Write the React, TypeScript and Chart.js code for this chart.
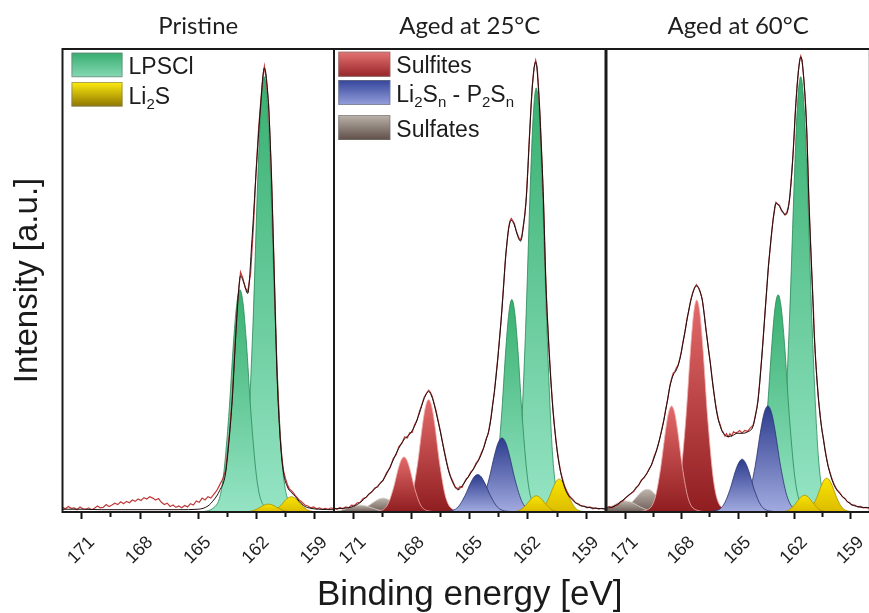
import { useEffect, useRef } from 'react';
import { Chart, registerables } from 'chart.js';

Chart.register(...registerables);

type Pt = [number, number];

// ---------------- text / categories ----------------
const PANEL_TITLES = ['Pristine', 'Aged at 25°C', 'Aged at 60°C'];
const Y_TITLE = 'Intensity [a.u.]';
const X_TITLE = 'Binding energy [eV]';
const X_MIN = 158;
const X_MAX = 172;
const X_STEP = 1.5;
const MAJOR_TICKS = [171, 168, 165, 162, 159];

// ---------------- measured spectra (raw, red) ----------------
const RAW_P1: Pt[] = [
  [172.0, 1.0], [171.85, 0.7], [171.7, 1.2], [171.55, 0.8], [171.4, 0.9], [171.25, 0.5], [171.1, 1.1], [170.95, 0.7],
  [170.8, 0.6], [170.65, 0.9], [170.5, 0.5], [170.35, 0.8], [170.2, 1.3], [170.05, 0.9], [169.9, 1.0], [169.75, 1.6],
  [169.6, 1.2], [169.45, 1.5], [169.3, 1.9], [169.15, 1.6], [169.0, 2.2], [168.85, 1.8], [168.7, 2.3], [168.55, 2.0],
  [168.4, 2.6], [168.25, 2.3], [168.1, 2.8], [167.95, 2.5], [167.8, 3.1], [167.65, 2.8], [167.5, 3.3], [167.35, 3.0],
  [167.2, 2.6], [167.05, 2.9], [166.9, 2.1], [166.75, 1.6], [166.6, 1.9], [166.45, 1.2], [166.3, 1.5], [166.15, 1.0],
  [166.0, 1.3], [165.85, 0.9], [165.7, 1.4], [165.55, 1.1], [165.4, 1.8], [165.25, 1.5], [165.1, 2.4], [164.95, 2.1],
  [164.8, 3.0], [164.65, 2.6], [164.5, 3.3], [164.35, 3.0], [164.2, 3.8], [164.05, 4.6], [163.9, 5.8], [163.75, 7.0],
  [163.59, 9.0], [163.4, 16.5], [163.25, 24.5], [163.08, 37.5], [162.95, 46.5], [162.82, 51.8], [162.7, 50.5],
  [162.58, 48.5], [162.45, 47.6], [162.3, 51.5], [162.15, 62], [162.02, 73.5], [161.9, 82], [161.79, 88],
  [161.68, 93.5], [161.59, 96.3], [161.5, 93.5], [161.37, 88], [161.23, 73.5], [161.13, 59], [161.06, 48.5],
  [160.94, 30.5], [160.85, 22], [160.77, 16], [160.68, 11.5], [160.6, 8.8], [160.5, 7.2], [160.4, 5.9], [160.3, 5.0],
  [160.2, 4.6], [160.1, 4.2], [160.0, 3.6], [159.9, 3.1], [159.8, 2.6], [159.65, 2.1], [159.5, 1.5], [159.35, 1.3],
  [159.2, 0.9], [159.05, 1.1], [158.9, 0.7], [158.75, 0.9], [158.6, 0.6], [158.45, 0.8], [158.3, 0.6], [158.15, 0.9],
  [158.0, 0.7],
];

const RAW_P2: Pt[] = [
  [172.0, 0.9], [171.85, 0.6], [171.7, 1.0], [171.55, 0.7], [171.4, 1.1], [171.25, 0.9], [171.1, 1.5], [170.95, 1.4],
  [170.8, 2.0], [170.65, 2.1], [170.5, 2.9], [170.33, 3.2], [170.2, 3.9], [170.05, 4.3], [169.9, 5.2], [169.75, 5.4],
  [169.6, 6.4], [169.47, 6.8], [169.3, 8.4], [169.1, 9.6], [168.95, 11.5], [168.79, 12.4], [168.65, 14.2], [168.5, 14.8],
  [168.36, 16.2], [168.22, 16.0], [168.1, 17.1], [167.97, 17.2], [167.85, 18.8], [167.72, 19.8], [167.59, 21.8],
  [167.47, 23.2], [167.35, 24.8], [167.22, 25.7], [167.12, 26.3], [167.02, 25.8], [166.92, 24.8], [166.82, 23.2],
  [166.73, 21.8], [166.62, 19.5], [166.5, 17.2], [166.4, 15.0], [166.3, 13.0], [166.2, 11.0], [166.1, 9.2], [166.0, 7.8],
  [165.87, 6.6], [165.75, 5.4], [165.6, 5.0], [165.5, 5.5], [165.4, 5.3], [165.3, 6.2], [165.19, 7.1], [165.07, 7.6],
  [164.95, 8.6], [164.82, 9.2], [164.68, 10.5], [164.55, 11.2], [164.4, 12.8], [164.28, 13.9], [164.16, 15.8],
  [164.05, 16.9], [163.97, 18.8], [163.9, 20.5], [163.82, 23.3], [163.73, 25.8], [163.65, 29.3], [163.56, 33],
  [163.47, 37.3], [163.38, 41.5], [163.3, 46.3], [163.22, 51], [163.15, 55.2], [163.07, 58.5], [163.0, 61.3],
  [162.93, 62.8], [162.86, 63.4], [162.78, 62.9], [162.7, 62.3], [162.61, 60.8], [162.52, 59.8], [162.45, 59.0],
  [162.38, 58.8], [162.31, 59.6], [162.24, 61.8], [162.16, 64.3], [162.08, 68.3], [162.0, 74.5], [161.92, 81.3],
  [161.85, 87], [161.77, 92.3], [161.69, 95.8], [161.6, 97.6], [161.52, 96], [161.45, 91.3], [161.38, 86],
  [161.32, 80.3], [161.26, 74], [161.2, 67.7], [161.14, 59], [161.08, 50.4], [161.02, 44], [160.95, 38.3],
  [160.88, 33], [160.82, 28.8], [160.75, 24.5], [160.69, 21.3], [160.62, 18.3], [160.56, 15.8], [160.48, 13.0],
  [160.4, 10.8], [160.31, 8.7], [160.22, 7.2], [160.11, 5.6], [160.0, 4.5], [159.85, 3.4], [159.7, 2.8], [159.55, 2.0],
  [159.4, 1.8], [159.25, 1.3], [159.1, 1.3], [158.95, 0.9], [158.8, 1.1], [158.65, 0.7], [158.5, 0.9], [158.35, 0.6],
  [158.2, 0.8], [158.0, 0.6],
];

const RAW_P3: Pt[] = [
  [172.0, 0.9], [171.85, 1.2], [171.7, 0.9], [171.55, 1.4], [171.4, 1.5], [171.25, 2.2], [171.12, 2.4], [171.0, 3.0],
  [170.85, 3.5], [170.7, 4.0], [170.55, 4.4], [170.43, 5.3], [170.3, 5.7], [170.15, 6.9], [170.0, 7.4], [169.87, 8.2],
  [169.74, 9.3], [169.6, 10.2], [169.47, 12.0], [169.33, 13.4], [169.2, 15.3], [169.06, 17.9], [168.95, 19.9],
  [168.85, 22.3], [168.74, 24.4], [168.63, 27.3], [168.54, 28.8], [168.45, 30.0], [168.37, 30.3], [168.28, 31.2],
  [168.2, 31.6], [168.1, 33.2], [168.02, 34.6], [167.94, 36.6], [167.83, 38.8], [167.72, 41.7], [167.62, 43.6],
  [167.51, 46.0], [167.4, 47.6], [167.3, 48.6], [167.22, 49.1], [167.13, 48.6], [167.02, 47.5], [166.91, 46.0],
  [166.8, 42.6], [166.7, 39.2], [166.59, 35.5], [166.48, 32.3], [166.39, 29.0], [166.3, 26.2], [166.21, 23.5],
  [166.13, 21.6], [166.04, 19.8], [165.95, 18.8], [165.87, 17.6], [165.79, 17.2], [165.7, 16.4], [165.62, 16.9],
  [165.53, 16.2], [165.44, 16.9], [165.35, 16.4], [165.25, 17.3], [165.15, 17.1], [165.05, 17.2], [164.92, 17.6],
  [164.79, 17.1], [164.65, 17.6], [164.5, 17.4], [164.36, 18.1], [164.21, 18.7], [164.14, 19.8], [164.07, 21.2],
  [164.0, 22.6], [163.94, 24.4], [163.85, 28.3], [163.75, 33.2], [163.65, 38.6], [163.56, 43.8], [163.47, 48.5],
  [163.39, 53.2], [163.3, 56.8], [163.22, 60.2], [163.14, 63.3], [163.06, 65.3], [162.99, 66.9], [162.9, 66.5],
  [162.8, 66.2], [162.7, 65.1], [162.6, 64.7], [162.53, 64.2], [162.47, 64.4], [162.4, 64.9], [162.33, 66.0],
  [162.27, 67.6], [162.19, 71.3], [162.1, 76.2], [162.02, 81.4], [161.95, 87.2], [161.87, 91.8], [161.8, 95.2],
  [161.73, 97.4], [161.67, 98.5], [161.6, 97.6], [161.5, 93.2], [161.42, 88.3], [161.35, 82.2], [161.3, 75.8],
  [161.24, 67.6], [161.16, 59.2], [161.07, 50.3], [161.0, 44.2], [160.95, 38.2], [160.88, 33.0], [160.81, 28.7],
  [160.72, 24.0], [160.62, 20.2], [160.54, 17.6], [160.46, 15.7], [160.38, 13.4], [160.3, 11.7], [160.21, 9.8],
  [160.12, 8.6], [160.0, 7.0], [159.9, 6.0], [159.75, 4.8], [159.6, 4.2], [159.45, 3.3], [159.3, 2.9], [159.2, 2.2],
  [159.09, 2.1], [158.95, 1.5], [158.8, 1.5], [158.65, 1.1], [158.5, 1.2], [158.35, 0.9], [158.2, 1.0], [158.0, 0.8],
];

// ---------------- fitted envelopes (black) ----------------
const ENV_P1: Pt[] = [
  [172, 0.6], [171, 0.6], [170, 0.5], [168, 0.5], [166, 0.5], [165, 0.6], [164.5, 1.3], [164.2, 2.6], [163.9, 4.6],
  [163.59, 8.4], [163.4, 16], [163.25, 24], [163.08, 37], [162.95, 46], [162.82, 51], [162.65, 49.5], [162.45, 47.2],
  [162.23, 58.8], [162.02, 73.2], [161.79, 87.5], [161.59, 95.9], [161.37, 87.5], [161.23, 73.2], [161.13, 58.8],
  [161.06, 48], [160.94, 30], [160.77, 15.5], [160.6, 8.4], [160.4, 5.4], [160.2, 4.2], [160.0, 3.4], [159.8, 2.3],
  [159.5, 1.2], [159.2, 0.8], [158.8, 0.6], [158, 0.5],
];

const ENV_P2: Pt[] = [
  [172, 0.7], [171.5, 0.8], [171.0, 1.2], [170.6, 2.2], [170.33, 3.3], [170.0, 4.6], [169.75, 5.6], [169.47, 6.9],
  [169.1, 9.8], [168.79, 12.7], [168.55, 14.6], [168.36, 15.8], [168.1, 16.8], [167.85, 18.5], [167.59, 21.4],
  [167.35, 24.5], [167.12, 26.0], [166.92, 24.5], [166.73, 21.4], [166.5, 17], [166.3, 12.7], [166.1, 9],
  [165.87, 6.3], [165.6, 4.8], [165.4, 5.6], [165.19, 6.9], [164.95, 8.4], [164.68, 10.2], [164.4, 12.5],
  [164.16, 15.5], [163.97, 18.5], [163.82, 23], [163.65, 29], [163.47, 37], [163.3, 46], [163.15, 55], [163.0, 61],
  [162.86, 63], [162.7, 62], [162.52, 59.5], [162.38, 58.5], [162.24, 61.5], [162.08, 68], [161.92, 81], [161.77, 92],
  [161.6, 97.2], [161.45, 91], [161.32, 80], [161.2, 67.4], [161.08, 50.1], [160.95, 38], [160.82, 28.5],
  [160.69, 21], [160.56, 15.5], [160.4, 10.5], [160.22, 6.9], [160.0, 4.2], [159.7, 2.6], [159.4, 1.6], [159.02, 1.1],
  [158.5, 0.8], [158, 0.7],
];

const ENV_P3: Pt[] = [
  [172, 0.8], [171.6, 1.2], [171.12, 2.6], [170.8, 3.7], [170.43, 5.1], [170.1, 7.0], [169.74, 9.1], [169.4, 12.5],
  [169.06, 17.7], [168.85, 22], [168.63, 27.1], [168.45, 29.6], [168.28, 30.7], [168.1, 33], [167.94, 36.4],
  [167.72, 41.5], [167.51, 45.8], [167.22, 48.8], [166.91, 45.8], [166.7, 39], [166.48, 32.1], [166.3, 26],
  [166.13, 21.3], [165.95, 18.5], [165.79, 17.0], [165.53, 16.3], [165.3, 16.5], [165.05, 17.0], [164.79, 17.0],
  [164.5, 17.3], [164.21, 18.5], [164.07, 21], [163.94, 24.2], [163.75, 33], [163.56, 43.6], [163.39, 53],
  [163.14, 63.1], [162.99, 66.7], [162.8, 66], [162.6, 64.6], [162.47, 64.2], [162.27, 67.4], [162.1, 76],
  [161.95, 87], [161.8, 95], [161.67, 98.3], [161.5, 93], [161.35, 82], [161.24, 67.4], [161.07, 50.1], [160.95, 38],
  [160.81, 28.5], [160.62, 20], [160.46, 15.5], [160.3, 11.5], [160.12, 8.4], [159.9, 5.8], [159.6, 4.0], [159.3, 2.7],
  [159.09, 1.9], [158.7, 1.2], [158, 0.9],
];

// ---------------- fitted components ----------------
// Pristine
const P1_LPSCL_32: Pt[] = [[159.48, 0], [160.28, 1.9], [160.7, 12.2], [161.02, 40.4], [161.28, 73.3], [161.44, 88.4], [161.6, 94], [161.76, 88.4], [161.92, 73.3], [162.18, 40.4], [162.5, 12.2], [162.93, 1.9], [163.72, 0]];
const P1_LPSCL_12: Pt[] = [[160.73, 0], [161.53, 1.0], [161.95, 6.2], [162.27, 20.6], [162.53, 37.4], [162.69, 45.1], [162.85, 48], [163.01, 45.1], [163.17, 37.4], [163.43, 20.6], [163.75, 6.2], [164.18, 1.0], [164.97, 0]];
const P1_LI2S_32: Pt[] = [[158.2, 0], [158.95, 0.07], [159.35, 0.43], [159.65, 1.4], [159.9, 2.6], [160.05, 3.1], [160.2, 3.3], [160.35, 3.1], [160.5, 2.6], [160.75, 1.4], [161.05, 0.43], [161.45, 0.07], [162.2, 0]];
const P1_LI2S_12: Pt[] = [[159.38, 0], [160.13, 0.03], [160.53, 0.22], [160.83, 0.73], [161.08, 1.33], [161.23, 1.6], [161.38, 1.7], [161.53, 1.6], [161.68, 1.33], [161.93, 0.73], [162.23, 0.22], [162.63, 0.03], [163.38, 0]];

// Aged at 25 °C
const P2_LPSCL_32: Pt[] = [[159.57, 0], [160.32, 1.8], [160.72, 11.9], [161.02, 39.4], [161.27, 71.4], [161.42, 86.1], [161.57, 91.6], [161.72, 86.1], [161.87, 71.4], [162.12, 39.4], [162.42, 11.9], [162.82, 1.8], [163.57, 0]];
const P2_LPSCL_12: Pt[] = [[160.83, 0], [161.58, 0.9], [161.98, 6.0], [162.28, 19.7], [162.53, 35.8], [162.68, 43.1], [162.83, 45.9], [162.98, 43.1], [163.13, 35.8], [163.38, 19.7], [163.68, 6.0], [164.08, 0.9], [164.83, 0]];
const P2_LI2S_32: Pt[] = [[158.47, 0], [159.19, 0.14], [159.57, 0.92], [159.86, 3.05], [160.1, 5.5], [160.25, 6.7], [160.39, 7.1], [160.53, 6.7], [160.68, 5.5], [160.92, 3.05], [161.21, 0.92], [161.59, 0.14], [162.31, 0]];
const P2_LI2S_12: Pt[] = [[159.65, 0], [160.37, 0.07], [160.75, 0.46], [161.04, 1.5], [161.28, 2.7], [161.43, 3.3], [161.57, 3.5], [161.71, 3.3], [161.86, 2.7], [162.1, 1.5], [162.39, 0.46], [162.77, 0.07], [163.49, 0]];
const P2_POLY_32: Pt[] = [[160.86, 0], [161.79, 0.32], [162.29, 2.1], [162.66, 6.9], [162.97, 12.5], [163.15, 15.0], [163.34, 16.0], [163.53, 15.0], [163.71, 12.5], [164.02, 6.9], [164.39, 2.1], [164.89, 0.32], [165.82, 0]];
const P2_POLY_12: Pt[] = [[162.19, 0], [163.09, 0.16], [163.57, 1.05], [163.93, 3.5], [164.23, 6.3], [164.41, 7.6], [164.59, 8.1], [164.77, 7.6], [164.95, 6.3], [165.25, 3.5], [165.61, 1.05], [166.09, 0.16], [166.99, 0]];
const P2_SULFITE_32: Pt[] = [[165.04, 0], [165.82, 0.49], [166.24, 3.2], [166.55, 10.4], [166.81, 19.0], [166.96, 22.8], [167.12, 24.3], [167.28, 22.8], [167.43, 19.0], [167.69, 10.4], [168.0, 3.2], [168.42, 0.49], [169.2, 0]];
const P2_SULFITE_12: Pt[] = [[166.39, 0], [167.14, 0.24], [167.54, 1.55], [167.84, 5.1], [168.09, 9.3], [168.24, 11.2], [168.39, 11.9], [168.54, 11.2], [168.69, 9.3], [168.94, 5.1], [169.24, 1.55], [169.64, 0.24], [170.39, 0]];
const P2_SULFATE_32: Pt[] = [[166.67, 0], [167.72, 0.06], [168.28, 0.39], [168.7, 1.3], [169.05, 2.3], [169.26, 2.8], [169.47, 3.0], [169.68, 2.8], [169.89, 2.3], [170.24, 1.3], [170.66, 0.39], [171.22, 0.06], [172.27, 0]];
const P2_SULFATE_12: Pt[] = [[167.85, 0], [168.9, 0.03], [169.46, 0.2], [169.88, 0.65], [170.23, 1.17], [170.44, 1.4], [170.65, 1.5], [170.86, 1.4], [171.07, 1.17], [171.42, 0.65], [171.84, 0.2], [172.4, 0.03], [173.45, 0]];

// Aged at 60 °C
const P3_LPSCL_32: Pt[] = [[159.47, 0], [160.3, 1.9], [160.74, 12.2], [161.07, 40.4], [161.34, 73.3], [161.51, 88.4], [161.67, 94], [161.84, 88.4], [162.0, 73.3], [162.28, 40.4], [162.61, 12.2], [163.05, 1.9], [163.87, 0]];
const P3_LPSCL_12: Pt[] = [[160.67, 0], [161.5, 0.94], [161.94, 6.1], [162.27, 20.2], [162.54, 36.6], [162.71, 44.1], [162.87, 46.9], [163.04, 44.1], [163.2, 36.6], [163.48, 20.2], [163.81, 6.1], [164.25, 0.94], [165.07, 0]];
const P3_LI2S_32: Pt[] = [[158.37, 0], [159.09, 0.15], [159.47, 0.95], [159.76, 3.1], [160.0, 5.7], [160.15, 6.9], [160.29, 7.3], [160.43, 6.9], [160.58, 5.7], [160.82, 3.1], [161.11, 0.95], [161.49, 0.15], [162.21, 0]];
const P3_LI2S_12: Pt[] = [[159.55, 0], [160.27, 0.07], [160.65, 0.47], [160.94, 1.55], [161.18, 2.8], [161.33, 3.4], [161.47, 3.6], [161.61, 3.4], [161.76, 2.8], [162.0, 1.55], [162.29, 0.47], [162.67, 0.07], [163.39, 0]];
const P3_POLY_32: Pt[] = [[160.94, 0], [161.87, 0.46], [162.37, 3.0], [162.74, 9.8], [163.05, 17.9], [163.23, 21.5], [163.42, 22.9], [163.61, 21.5], [163.79, 17.9], [164.1, 9.8], [164.47, 3.0], [164.97, 0.46], [165.9, 0]];
const P3_POLY_12: Pt[] = [[162.47, 0], [163.34, 0.23], [163.8, 1.5], [164.15, 4.9], [164.44, 8.9], [164.62, 10.7], [164.79, 11.4], [164.96, 10.7], [165.14, 8.9], [165.43, 4.9], [165.78, 1.5], [166.24, 0.23], [167.11, 0]];
const P3_SULFITE_32: Pt[] = [[165.04, 0], [165.85, 0.92], [166.28, 6.0], [166.61, 19.7], [166.88, 35.7], [167.04, 43.1], [167.2, 45.8], [167.36, 43.1], [167.52, 35.7], [167.79, 19.7], [168.12, 6.0], [168.55, 0.92], [169.36, 0]];
const P3_SULFITE_12: Pt[] = [[166.46, 0], [167.24, 0.46], [167.66, 3.0], [167.97, 9.8], [168.23, 17.9], [168.38, 21.5], [168.54, 22.9], [168.7, 21.5], [168.85, 17.9], [169.11, 9.8], [169.42, 3.0], [169.84, 0.46], [170.62, 0]];
const P3_SULFATE_32: Pt[] = [[166.83, 0], [167.96, 0.1], [168.56, 0.64], [169.01, 2.1], [169.42, 3.8], [169.61, 4.6], [169.83, 4.9], [170.06, 4.6], [170.28, 3.8], [170.66, 2.1], [171.11, 0.64], [171.71, 0.1], [172.83, 0]];
const P3_SULFATE_12: Pt[] = [[168.0, 0], [169.13, 0.05], [169.73, 0.31], [170.18, 1.03], [170.55, 1.87], [170.78, 2.26], [171.0, 2.4], [171.23, 2.26], [171.45, 1.87], [171.83, 1.03], [172.28, 0.31], [172.88, 0.05], [174.0, 0]];

// ---------------- styles ----------------
type SpeciesKey = 'lpscl' | 'li2s' | 'sulfite' | 'poly' | 'sulfate';
const SPECIES_STYLE: Record<SpeciesKey, { top: string; bottom: string; line: string; lgTop: string; lgBottom: string }> = {
  lpscl: { top: '#38b070', bottom: '#95e4c4', line: '#2a8658', lgTop: '#36ad6f', lgBottom: '#86d9b4' },
  li2s: { top: '#f8e400', bottom: '#dcbc00', line: '#a89000', lgTop: '#ffec10', lgBottom: '#8e7600' },
  sulfite: { top: '#e46a6a', bottom: '#8f1d20', line: '#f2b0b0', lgTop: '#e57474', lgBottom: '#972427' },
  poly: { top: '#2d3c8e', bottom: '#a2abe0', line: '#27336f', lgTop: '#34449a', lgBottom: '#95a0dc' },
  sulfate: { top: '#bdb5ad', bottom: '#6c5c54', line: '#d8d1ca', lgTop: '#bcb4ac', lgBottom: '#5e4e47' },
};

type PeakDef = { data: Pt[]; sp: SpeciesKey };
// listed front-most first
const PANEL_PEAKS: PeakDef[][] = [
  [
    { data: P1_LI2S_12, sp: 'li2s' }, { data: P1_LI2S_32, sp: 'li2s' },
    { data: P1_LPSCL_12, sp: 'lpscl' }, { data: P1_LPSCL_32, sp: 'lpscl' },
  ],
  [
    { data: P2_LI2S_12, sp: 'li2s' }, { data: P2_LI2S_32, sp: 'li2s' },
    { data: P2_POLY_12, sp: 'poly' }, { data: P2_POLY_32, sp: 'poly' },
    { data: P2_SULFITE_12, sp: 'sulfite' }, { data: P2_SULFITE_32, sp: 'sulfite' },
    { data: P2_LPSCL_12, sp: 'lpscl' }, { data: P2_LPSCL_32, sp: 'lpscl' },
    { data: P2_SULFATE_12, sp: 'sulfate' }, { data: P2_SULFATE_32, sp: 'sulfate' },
  ],
  [
    { data: P3_LI2S_12, sp: 'li2s' }, { data: P3_LI2S_32, sp: 'li2s' },
    { data: P3_POLY_12, sp: 'poly' }, { data: P3_POLY_32, sp: 'poly' },
    { data: P3_SULFITE_12, sp: 'sulfite' }, { data: P3_SULFITE_32, sp: 'sulfite' },
    { data: P3_LPSCL_12, sp: 'lpscl' }, { data: P3_LPSCL_32, sp: 'lpscl' },
    { data: P3_SULFATE_12, sp: 'sulfate' }, { data: P3_SULFATE_32, sp: 'sulfate' },
  ],
];
const PANEL_RAW: Pt[][] = [RAW_P1, RAW_P2, RAW_P3];
const PANEL_ENV: Pt[][] = [ENV_P1, ENV_P2, ENV_P3];

// legend entries: text parts [text, isSubscript]
type LegendEntry = { sp: SpeciesKey; parts: [string, boolean][] };
const PANEL_LEGENDS: LegendEntry[][] = [
  [
    { sp: 'lpscl', parts: [['LPSCl', false]] },
    { sp: 'li2s', parts: [['Li', false], ['2', true], ['S', false]] },
  ],
  [
    { sp: 'sulfite', parts: [['Sulfites', false]] },
    { sp: 'poly', parts: [['Li', false], ['2', true], ['S', false], ['n', true], [' - P', false], ['2', true], ['S', false], ['n', true]] },
    { sp: 'sulfate', parts: [['Sulfates', false]] },
  ],
  [],
];

// ---------------- layout ----------------
const CANVAS_W = 880;
const CANVAS_H = 613;
const PLOT_TOP = 49;
const PLOT_BOTTOM = 512;
const PANEL_X: [number, number][] = [[62.5, 334], [334, 605.5], [606.5, 878]];
const LEGEND_LAYOUT = [
  { dx: 9, rows: [3.7, 33], boxW: 51, boxH: 24.5 },
  { dx: 4.3, rows: [2.7, 31, 66], boxW: 52, boxH: 25 },
  { dx: 0, rows: [], boxW: 0, boxH: 0 },
];
const TITLE_SIZE = 24;
const TITLE_PAD_BOTTOM = 8;
const X_TITLE_BASELINE = 605;
const SANS = '"Liberation Sans", Arial, sans-serif';

Chart.defaults.font.family = SANS;

const toXY = (pts: Pt[]) => [...pts].sort((a, b) => a[0] - b[0]).map(([x, y]) => ({ x, y }));

const framePlugin = {
  id: 'panelFrame',
  afterDraw(chart: any) {
    const { ctx, chartArea: a } = chart;
    ctx.save();
    ctx.strokeStyle = '#1a1a1a';
    ctx.lineWidth = 2;
    ctx.strokeRect(a.left, a.top, a.right - a.left, a.bottom - a.top);
    ctx.restore();
  },
};

// shared x-axis title, centred under the middle panel (wider than one panel)
const xTitlePlugin = {
  id: 'sharedXTitle',
  afterDraw(chart: any) {
    const { ctx, chartArea: a } = chart;
    ctx.save();
    ctx.fillStyle = '#1a1a1a';
    ctx.font = `35px ${SANS}`;
    ctx.textAlign = 'center';
    ctx.textBaseline = 'alphabetic';
    ctx.fillText(X_TITLE, (a.left + a.right) / 2, X_TITLE_BASELINE);
    ctx.restore();
  },
};

function makeLegendPlugin(idx: number) {
  const entries = PANEL_LEGENDS[idx];
  const lay = LEGEND_LAYOUT[idx];
  return {
    id: 'insideLegend',
    afterDraw(chart: any) {
      if (!entries.length) return;
      const { ctx, chartArea } = chart;
      ctx.save();
      entries.forEach((e, i) => {
        const st = SPECIES_STYLE[e.sp];
        const x = chartArea.left + lay.dx;
        const y = chartArea.top + lay.rows[i];
        const g = ctx.createLinearGradient(0, y, 0, y + lay.boxH);
        g.addColorStop(0, st.lgTop);
        g.addColorStop(1, st.lgBottom);
        ctx.fillStyle = g;
        ctx.fillRect(x, y, lay.boxW, lay.boxH);
        ctx.strokeStyle = 'rgba(120,120,120,0.6)';
        ctx.lineWidth = 1;
        ctx.strokeRect(x + 0.5, y + 0.5, lay.boxW - 1, lay.boxH - 1);
        let tx = x + lay.boxW + 6;
        const base = y + 21.5;
        ctx.fillStyle = '#1c1c1c';
        ctx.textAlign = 'left';
        ctx.textBaseline = 'alphabetic';
        e.parts.forEach(([t, sub]) => {
          ctx.font = sub ? `15px ${SANS}` : `23px ${SANS}`;
          ctx.fillText(t, tx, sub ? base + 5 : base);
          tx += ctx.measureText(t).width;
        });
      });
      ctx.restore();
    },
  };
}

const isMajor = (v: number) => MAJOR_TICKS.some((m) => Math.abs(m - v) < 0.01);

function makeChart(canvas: HTMLCanvasElement, idx: number) {
  const [left, right] = PANEL_X[idx];
  const datasets: any[] = [];
  datasets.push({
    label: 'Envelope',
    data: toXY(PANEL_ENV[idx]),
    borderColor: '#1a1010',
    borderWidth: 1,
    pointRadius: 0,
    fill: false,
    cubicInterpolationMode: 'monotone',
  });
  datasets.push({
    label: 'Measured',
    data: toXY(PANEL_RAW[idx]),
    borderColor: 'rgba(185,35,35,0.9)',
    borderWidth: 1.2,
    pointRadius: 0,
    fill: false,
    tension: 0,
  });
  PANEL_PEAKS[idx].forEach((p, k) => {
    const st = SPECIES_STYLE[p.sp];
    const peakMax = Math.max(...p.data.map((d) => d[1]));
    datasets.push({
      label: `${p.sp}-${k}`,
      data: toXY(p.data),
      borderColor: st.line,
      borderWidth: 0.8,
      pointRadius: 0,
      fill: 'origin',
      cubicInterpolationMode: 'monotone',
      backgroundColor: (c: any) => {
        const chart = c.chart;
        const ys = chart.scales?.y;
        if (!chart.chartArea || !ys) return st.top;
        const g = chart.ctx.createLinearGradient(0, ys.getPixelForValue(peakMax), 0, ys.getPixelForValue(0));
        g.addColorStop(0, st.top);
        g.addColorStop(1, st.bottom);
        return g;
      },
    });
  });

  const titleHeight = TITLE_SIZE * 1.2 + TITLE_PAD_BOTTOM;
  const plugins: any[] = [framePlugin, makeLegendPlugin(idx)];
  if (idx === 1) plugins.push(xTitlePlugin);

  return new Chart(canvas, {
    type: 'line',
    data: { datasets },
    options: {
      animation: false,
      responsive: false,
      devicePixelRatio: 1,
      events: [],
      layout: {
        padding: {
          left: idx === 0 ? 0 : left,
          right: CANVAS_W - right,
          top: PLOT_TOP - titleHeight,
          bottom: 0,
        },
      },
      plugins: {
        legend: { display: false },
        tooltip: { enabled: false },
        title: {
          display: true,
          text: PANEL_TITLES[idx],
          fullSize: false,
          color: '#1e1e1e',
          font: { family: 'Lato, "Open Sans", sans-serif', size: TITLE_SIZE, weight: 'normal', lineHeight: 1.2 },
          padding: { top: 0, bottom: TITLE_PAD_BOTTOM },
        },
      },
      scales: {
        x: {
          type: 'linear',
          position: 'bottom',
          min: X_MIN,
          max: X_MAX,
          reverse: true,
          afterFit: (s: any) => {
            s.height = CANVAS_H - PLOT_BOTTOM;
          },
          border: { display: true, color: '#111', width: 2 },
          grid: {
            drawOnChartArea: false,
            drawTicks: true,
            tickLength: 7,
            tickWidth: 2,
            tickColor: '#111',
            tickBorderDash: (c: any) => (c.tick && isMajor(c.tick.value) ? [] : [4, 20]),
          },
          ticks: {
            stepSize: X_STEP,
            includeBounds: false,
            autoSkip: false,
            minRotation: 45,
            maxRotation: 45,
            padding: 13,
            labelOffset: 10,
            color: '#1e1e1e',
            font: { size: 18, family: SANS },
            callback: (v: any) => (isMajor(Number(v)) ? String(Math.round(Number(v))) : ''),
          },
          title: { display: false },
        },
        y: {
          type: 'linear',
          min: 0,
          max: 100,
          display: idx === 0,
          afterFit: (s: any) => {
            if (idx === 0) s.width = PANEL_X[0][0];
          },
          border: { display: false },
          grid: { display: false },
          ticks: { display: false },
          title: {
            display: true,
            text: Y_TITLE,
            color: '#1a1a1a',
            font: { size: 33, family: SANS, lineHeight: 1.2 },
            padding: { top: 8, bottom: 0 },
          },
        },
      },
    },
    plugins,
  } as any);
}

export default function App() {
  const r0 = useRef<HTMLCanvasElement>(null);
  const r1 = useRef<HTMLCanvasElement>(null);
  const r2 = useRef<HTMLCanvasElement>(null);
  const refs = [r0, r1, r2];

  useEffect(() => {
    const charts = refs.map((r, i) => makeChart(r.current as HTMLCanvasElement, i));
    return () => charts.forEach((c) => c.destroy());
  }, []);

  return (
    <div
      style={{
        position: 'fixed',
        left: 0,
        top: 0,
        width: 869,
        height: 613,
        overflow: 'hidden',
        background: '#ffffff',
      }}
    >
      {refs.map((r, i) => (
        <canvas
          key={i}
          ref={r}
          width={CANVAS_W}
          height={CANVAS_H}
          style={{ position: 'absolute', left: 0, top: 0, width: CANVAS_W, height: CANVAS_H }}
        />
      ))}
    </div>
  );
}
